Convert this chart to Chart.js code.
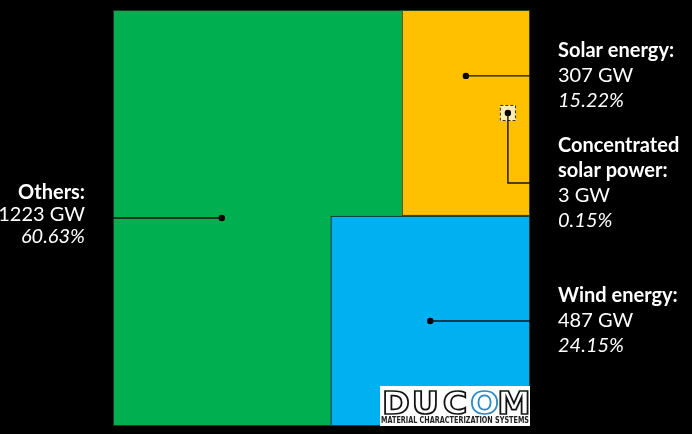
<!DOCTYPE html>
<html>
<head>
<meta charset="utf-8">
<script src="https://cdn.jsdelivr.net/npm/chart.js@4.4.1/dist/chart.umd.min.js"></script>
<style>
html, body { margin: 0; padding: 0; background: #000; }
#wrap { width: 692px; height: 434px; position: relative; }
</style>
</head>
<body>
<div id="wrap"><canvas id="chart" width="692" height="434"></canvas></div>
<script>
// installed capacity by source (CSP is a part of solar)
var sources = ['Others', 'Solar energy', 'Wind energy', 'Concentrated solar power'];
var capacityGW = [1223, 307, 487, 3];
var sharePct = [60.63, 15.22, 24.15, 0.15];
var titleLines = [['Others:'], ['Solar energy:'], ['Wind energy:'], ['Concentrated', 'solar power:']];
var fills = ['#00B050', '#FFC000', '#00B0F0', '#FFEDB0'];

// treemap layout in a unit square, sized from the values
var total = capacityGW[0] + capacityGW[1] + capacityGW[2];
var windH = 0.505;
var windW = capacityGW[2] / total / windH;
var solarH = 1 - windH;
var solarW = capacityGW[1] / total / solarH;
var cspSide = Math.sqrt(capacityGW[3] / total);
var cspX = 1 - 0.053, cspY = windH + solarH / 2;

var rects = [
    {x0: 0, x1: 1, y0: 0, y1: 1},
    {x0: 1 - solarW, x1: 1, y0: windH, y1: 1},
    {x0: 1 - windW, x1: 1, y0: 0, y1: windH},
    {x0: cspX - cspSide / 2, x1: cspX + cspSide / 2, y0: cspY - cspSide / 2, y1: cspY + cspSide / 2}
];

// marker dots and leader lines
var dots = [
    {x: (1 - windW) / 2, y: 0.5},
    {x: 1 - solarW / 2, y: windH + solarH * 0.68},
    {x: 1 - windW / 2, y: windH / 2},
    {x: cspX, y: cspY}
];
var cspBend = windH + solarH * 0.16;
var leaders = [
    [dots[0], {x: 0, y: dots[0].y}],
    [dots[1], {x: 1, y: dots[1].y}],
    [dots[2], {x: 1, y: dots[2].y}],
    [dots[3], {x: cspX, y: cspBend}, {x: 1, y: cspBend}]
];

var FONT = 'Lato, "Open Sans", sans-serif';

var treemapPlugin = {
    id: 'treemap',
    beforeDatasetsDraw: function (chart) {
        var ctx = chart.ctx, xs = chart.scales.x, ys = chart.scales.y;
        ctx.save();
        rects.forEach(function (r, i) {
            var px0 = xs.getPixelForValue(r.x0), px1 = xs.getPixelForValue(r.x1);
            var py0 = ys.getPixelForValue(r.y1), py1 = ys.getPixelForValue(r.y0);
            ctx.fillStyle = fills[i];
            ctx.fillRect(px0, py0, px1 - px0, py1 - py0);
            ctx.lineWidth = 1;
            if (i == 3) {
                ctx.setLineDash([3, 2]);
                ctx.strokeStyle = '#3a2a00';
            } else {
                ctx.setLineDash([]);
                ctx.strokeStyle = 'rgba(20,40,20,0.85)';
            }
            ctx.strokeRect(px0 + 0.5, py0 + 0.5, px1 - px0 - 1, py1 - py0 - 1);
        });
        ctx.restore();
    },
    afterDatasetsDraw: function (chart) {
        var ctx = chart.ctx, area = chart.chartArea, ys = chart.scales.y;
        ctx.save();
        ctx.fillStyle = '#fff';
        ctx.textBaseline = 'middle';

        function block(i, x, yMid, align, lh) {
            var lines = [];
            titleLines[i].forEach(function (t) { lines.push({t: t, f: 'bold 20px ' + FONT}); });
            lines.push({t: capacityGW[i] + ' GW', f: '20px ' + FONT});
            lines.push({t: sharePct[i].toFixed(2) + '%', f: 'italic 20px ' + FONT});
            var y = yMid - (lines.length - 1) * lh / 2;
            ctx.textAlign = align;
            lines.forEach(function (l, k) {
                ctx.font = l.f;
                ctx.fillText(l.t, x, y + k * lh);
            });
        }
        block(0, area.left - 28, ys.getPixelForValue(dots[0].y) - 3, 'right', 22);
        block(1, area.right + 28, ys.getPixelForValue(dots[1].y), 'left', 25);
        block(3, area.right + 28, ys.getPixelForValue(cspBend), 'left', 25);
        block(2, area.right + 28, ys.getPixelForValue(dots[2].y), 'left', 25);

        // DUCOM watermark in the bottom right corner
        var bx = area.right - 150, by = area.bottom - 40;
        ctx.fillStyle = '#fff';
        ctx.fillRect(bx, by, 150, 40);
        var letters = ['D', 'U', 'C', 'O', 'M'];
        ctx.font = 'bold 30px "DejaVu Sans"';
        ctx.textAlign = 'center';
        ctx.textBaseline = 'alphabetic';
        ctx.lineWidth = 1.6;
        letters.forEach(function (c, k) {
            ctx.strokeStyle = c == 'O' ? '#2a8cc4' : '#111';
            ctx.save();
            ctx.translate(bx + 16 + k * 29.5, by + 28);
            ctx.scale(1.12, 1.05);
            ctx.strokeText(c, 0, 0);
            ctx.restore();
        });
        ctx.fillStyle = '#222';
        ctx.font = 'bold 8px "DejaVu Sans"';
        ctx.textAlign = 'left';
        ctx.fillText('MATERIAL CHARACTERIZATION SYSTEMS', bx + 1, by + 37, 148);
        ctx.restore();
    }
};

var datasets = leaders.map(function (pts) {
    return {
        type: 'scatter',
        data: pts,
        showLine: true,
        borderColor: '#141414',
        borderWidth: 1.4,
        pointRadius: 0,
        tension: 0
    };
});
datasets.push({
    type: 'scatter',
    data: dots,
    pointRadius: 3.2,
    pointBackgroundColor: '#000',
    pointBorderColor: '#000',
    borderWidth: 0
});

new Chart(document.getElementById('chart'), {
    type: 'scatter',
    data: {datasets: datasets},
    options: {
        responsive: false,
        animation: false,
        devicePixelRatio: 1,
        layout: {padding: {left: 113, right: 162, top: 10, bottom: 8}},
        scales: {
            x: {type: 'linear', min: 0, max: 1, display: false},
            y: {type: 'linear', min: 0, max: 1, display: false}
        },
        plugins: {
            legend: {display: false},
            tooltip: {enabled: false}
        }
    },
    plugins: [treemapPlugin]
});
</script>
</body>
</html>
